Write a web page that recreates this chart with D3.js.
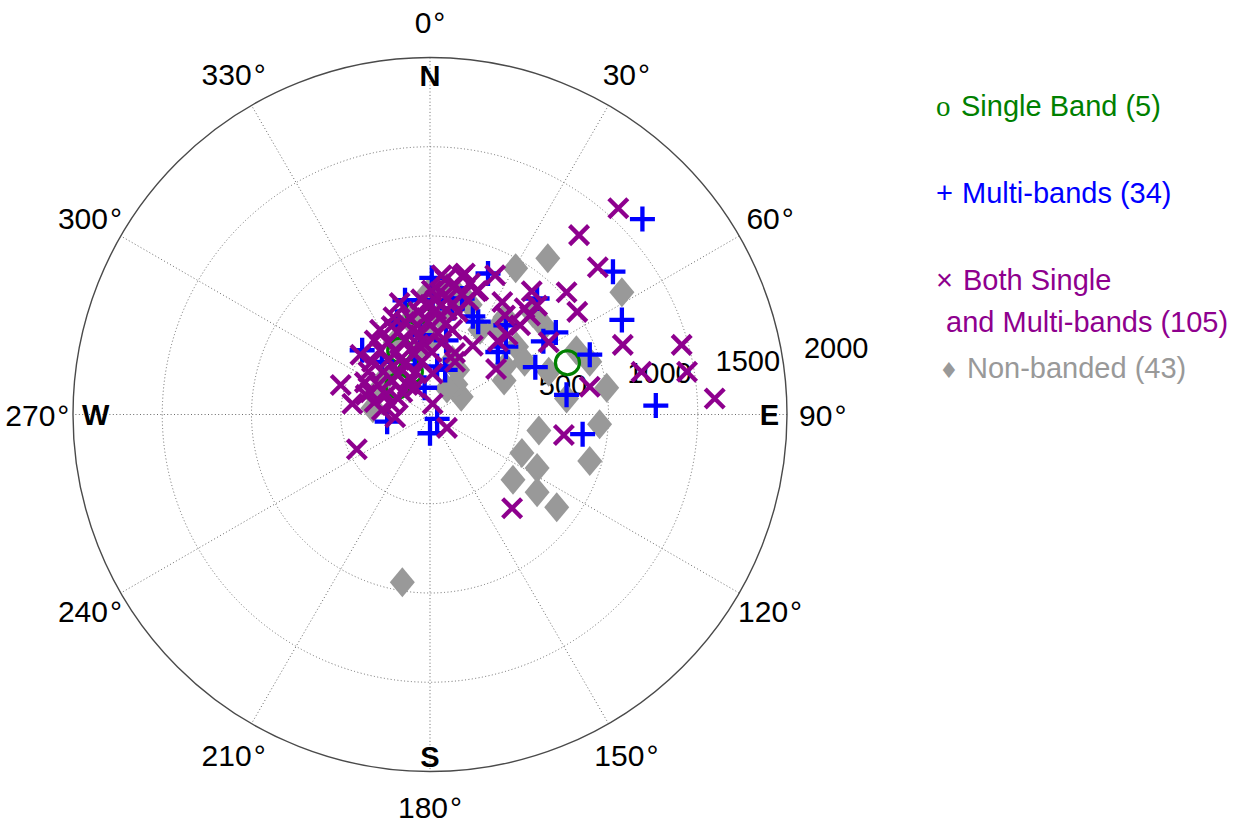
<!DOCTYPE html>
<html>
<head>
<meta charset="utf-8">
<script src="https://cdn.jsdelivr.net/npm/d3@7"></script>
<style>
  html, body { margin: 0; padding: 0; background: #fff; }
  svg { display: block; font-family: "Liberation Sans", Arial, Helvetica, sans-serif; }
</style>
</head>
<body>
<svg id="chart" width="1245" height="829"></svg>
<script>
// Source positions as [east, north] offsets, in the same units as the radial axis (0-2000)
const singleBand = [[770,290],[-70,575],[-170,360],[-180,160],[-110,240]];

const multiBands = [
  [1190,1095],[1025,800],[1075,530],[1265,50],[895,335],[765,110],[855,-110],[590,265],
  [705,460],[635,410],[425,380],[240,550],[270,520],[325,790],[600,650],[425,500],
  [85,250],[10,765],[-185,520],[-380,360],[40,270],[-240,-40],[0,-105],[40,-25],
  [15,640],[90,415],[-55,445],[-140,640],[125,595],[-85,275],[-270,295],[180,650],
  [-30,150],[380,350]
];

const bothBands = [
  [1055,1155],[835,1005],[940,825],[765,685],[825,575],[1080,390],[1410,390],[1185,240],
  [1440,240],[1595,90],[895,155],[750,-115],[460,-525],[370,255],[665,405],[570,690],
  [240,385],[140,295],[95,-75],[195,790],[365,780],[260,690],[405,630],[420,555],
  [560,555],[505,500],[435,445],[380,410],[65,780],[-170,625],[-50,645],[-205,545],
  [-500,165],[-435,60],[-195,-15],[15,60],[-410,-195],[-125,165],[15,230],[95,585],
  [600,610],[140,345],[530,595],
  [140,725],[225,735],[270,695],[55,685],[180,670],[100,650],[0,615],[125,620],
  [215,640],[-65,575],[35,585],[155,575],[-30,540],[-140,520],[-10,520],[90,510],
  [-100,475],[-180,460],[-55,445],[45,455],[125,475],[-235,405],[-140,415],[-30,395],
  [65,400],[-280,360],[-190,350],[-90,340],[10,350],[-325,295],[-235,305],[-140,285],
  [-45,295],[-345,240],[-260,240],[-180,220],[-80,240],[-365,180],[-290,165],[-215,195],
  [-110,205],[-335,125],[-245,110],[-155,125],[-310,70],[-215,55],[-270,25],
  [85,755],[180,775],[30,640],[-110,540],[-215,495],[-310,415],[-390,335],[-360,110],
  [-180,90],[-85,150],[55,540],[10,695],[-280,475],[-65,390],[-170,305]
];

const nonBanded = [
  [480,820],[660,875],[1075,685],[820,360],[895,295],[990,150],[765,90],[665,240],
  [950,-55],[610,-90],[515,-215],[600,-300],[465,-365],[600,-435],[710,-520],[895,-260],
  [175,100],[415,190],[-155,-940],[575,570],[420,545],[160,665],[-10,680],[155,250],
  [420,270],[380,490],[-320,35],[125,305],[145,170],[640,495],[485,380],[95,145],
  [530,295],[-110,530],[55,555],[-195,405],[-55,350],[-250,205],[95,710],[225,615],
  [0,415],[280,475],[-310,110]
];

const radialTicks = [500, 1000, 1500, 2000];
const angleTicks = [0, 30, 60, 90, 120, 150, 180, 210, 240, 270, 300, 330];
const compassNames = ["N", "E", "S", "W"];
const compassAngles = [0, 90, 180, 270];

const legendSymbols = ["o", "+", "\u00d7", "\u2666"];
const legendLabels = ["Single Band (5)", "Multi-bands (34)", "Both Single", "Non-banded (43)"];
const legendExtra = " and Multi-bands (105)";

const colGreen = "#008000", colBlue = "#0000ff", colPurple = "#8e008e", colGray = "#999999";

const svg = d3.select("#chart");
const cx = 430, cy = 414.5, R = 357;
const rMax = 2000;

const rScale = d3.scaleLinear().domain([0, rMax]).range([0, R]);
const aScale = d3.scaleLinear().domain([0, 360]).range([0, 2 * Math.PI]);

// compass bearing (deg, clockwise from north) + range -> screen position
function project(bearing, rho) {
  const a = aScale(bearing), r = rScale(rho);
  return [cx + r * Math.sin(a), cy - r * Math.cos(a)];
}
function toPolar(d) {
  let b = Math.atan2(d[0], d[1]) * 180 / Math.PI;
  if (b < 0) b += 360;
  return { bearing: b, rho: Math.hypot(d[0], d[1]) };
}

const g = svg.append("g");

// ---- grid: dotted rings and spokes
g.selectAll("circle.ring").data(radialTicks.filter(t => t < rMax)).enter()
  .append("circle").attr("class", "ring")
  .attr("cx", cx).attr("cy", cy).attr("r", d => rScale(d))
  .attr("fill", "none").attr("stroke", "#6a6a6a").attr("stroke-width", 1)
  .attr("stroke-dasharray", "1 2.4");

g.selectAll("line.spoke").data(angleTicks.filter(a => a < 180)).enter()
  .append("line").attr("class", "spoke")
  .attr("x1", d => project(d, rMax)[0]).attr("y1", d => project(d, rMax)[1])
  .attr("x2", d => project(d + 180, rMax)[0]).attr("y2", d => project(d + 180, rMax)[1])
  .attr("stroke", "#6a6a6a").attr("stroke-width", 1).attr("stroke-dasharray", "1 2.4");

// outer boundary
g.append("circle").attr("cx", cx).attr("cy", cy).attr("r", rScale(rMax))
  .attr("fill", "none").attr("stroke", "#4a4a4a").attr("stroke-width", 1.4);

// ---- radial tick labels along the 82 degree bearing
g.selectAll("text.rlab").data(radialTicks).enter()
  .append("text").attr("class", "rlab")
  .attr("x", d => project(82, d + rMax / 80)[0] + 16)
  .attr("y", d => project(82, d + rMax / 80)[1] - 6)
  .attr("font-size", 29).attr("fill", "#000")
  .text(d => d);

// ---- angle labels
const alab = g.selectAll("text.alab").data(angleTicks).enter()
  .append("text").attr("class", "alab")
  .attr("x", d => project(d, rMax * 1.1)[0])
  .attr("y", d => project(d, rMax * 1.1)[1])
  .attr("text-anchor", "middle").attr("dominant-baseline", "central")
  .attr("font-size", 30).attr("fill", "#000");
alab.append("tspan").text(d => d);
alab.append("tspan").attr("dx", 2).text("\u00b0");

// ---- compass letters just inside the boundary
const compass = compassNames.map((n, i) => ({ name: n, deg: compassAngles[i] }));
g.selectAll("text.clab").data(compass).enter()
  .append("text").attr("class", "clab")
  .attr("x", d => {
    if (d.name === "E") return project(90, rMax)[0] - 8;
    if (d.name === "W") return project(270, rMax)[0] + 9;
    return cx;
  })
  .attr("y", d => {
    if (d.name === "N") return project(0, rMax)[1] + 28.5;
    if (d.name === "S") return project(180, rMax)[1] - 4.5;
    return cy;
  })
  .attr("text-anchor", d => d.name === "E" ? "end" : d.name === "W" ? "start" : "middle")
  .attr("dominant-baseline", d => (d.name === "E" || d.name === "W") ? "central" : "alphabetic")
  .attr("font-size", 29).attr("font-weight", "bold").attr("fill", "#000")
  .text(d => d.name);

// ---- markers
const marks = g.append("g");

const diamondPath = "M0,-15L12.5,0L0,15L-12.5,0Z";
marks.selectAll("path.nb").data(nonBanded.map(toPolar)).enter()
  .append("path").attr("class", "nb")
  .attr("transform", d => `translate(${project(d.bearing, d.rho)})`)
  .attr("d", diamondPath).attr("fill", colGray).attr("stroke", "none");

marks.selectAll("circle.sb").data(singleBand.map(toPolar)).enter()
  .append("circle").attr("class", "sb")
  .attr("cx", d => project(d.bearing, d.rho)[0]).attr("cy", d => project(d.bearing, d.rho)[1])
  .attr("r", 12).attr("fill", "none").attr("stroke", colGreen).attr("stroke-width", 3.2);

const plusPath = "M-12.5,0H12.5M0,-12.5V12.5";
marks.selectAll("path.mb").data(multiBands.map(toPolar)).enter()
  .append("path").attr("class", "mb")
  .attr("transform", d => `translate(${project(d.bearing, d.rho)})`)
  .attr("d", plusPath).attr("fill", "none").attr("stroke", colBlue).attr("stroke-width", 4.3);

const crossPath = "M-9.5,-9.5L9.5,9.5M-9.5,9.5L9.5,-9.5";
marks.selectAll("path.bb").data(bothBands.map(toPolar)).enter()
  .append("path").attr("class", "bb")
  .attr("transform", d => `translate(${project(d.bearing, d.rho)})`)
  .attr("d", crossPath).attr("fill", "none").attr("stroke", colPurple).attr("stroke-width", 4.3);

// ---- legend
const leg = svg.append("g").attr("font-size", 29);
const legColors = [colGreen, colBlue, colPurple, colGray];
const legBase = [116, 203, 290, 378];
const symX = [936, 936, 936, 939];
const labX = [961, 962, 963, 967];

leg.selectAll("text.lsym").data(legendSymbols).enter()
  .append("text").attr("class", "lsym")
  .attr("x", (d, i) => symX[i]).attr("y", (d, i) => legBase[i])
  .attr("fill", (d, i) => legColors[i])
  .attr("font-family", (d, i) => i === 0 ? "'Liberation Serif', 'Times New Roman', serif" : i === 3 ? "'DejaVu Sans', sans-serif" : null)
  .attr("font-size", (d, i) => i === 3 ? 22 : 29)
  .text(d => d);

leg.selectAll("text.llab").data(legendLabels).enter()
  .append("text").attr("class", "llab")
  .attr("x", (d, i) => labX[i]).attr("y", (d, i) => legBase[i])
  .attr("fill", (d, i) => legColors[i])
  .text(d => d);

leg.append("text")
  .attr("x", 938).attr("y", 332)
  .attr("fill", colPurple)
  .attr("xml:space", "preserve").style("white-space", "pre")
  .text(legendExtra);
</script>
</body>
</html>
